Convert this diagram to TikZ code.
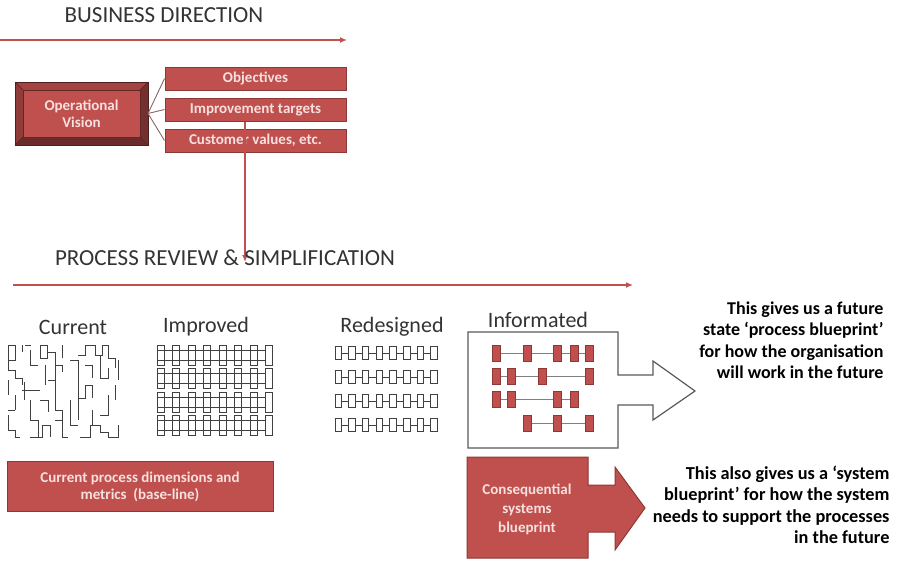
\documentclass[tikz,border=0pt]{standalone}
\usepackage{fontspec}
\setmainfont{Carlito}
\usetikzlibrary{arrows.meta}
\definecolor{brick}{HTML}{C0504D}
\definecolor{brickdark}{HTML}{8C3836}
\definecolor{pinktext}{HTML}{F6E1E0}
\definecolor{inkgray}{HTML}{333333}

\begin{document}
\begin{tikzpicture}[x=1pt,y=-1pt,
  redbox/.style={draw=brickdark,fill=brick,line width=1pt,text=pinktext,font=\fontsize{15}{17}\selectfont\bfseries,align=center,inner sep=0pt},
  head/.style={text=inkgray,font=\fontsize{23}{26}\selectfont},
  stage/.style={text=inkgray,font=\fontsize{22}{24}\selectfont},
  flow/.style={brick,line width=2pt,-{Latex[length=7pt,width=6pt]}},
  note/.style={align=right,anchor=east,font=\fontsize{18}{21.5}\selectfont\bfseries},
  sketch/.style={draw=black!75,line width=1.1pt},
  chip/.style={draw=brickdark,fill=brick,line width=.8pt}]
  \useasboundingbox (0,0) rectangle (903,563);

  % business direction
  \node[head] (bizhead) at (164,15) {BUSINESS DIRECTION};
  \coordinate (bizstart) at (0,40);
  \coordinate (bizend) at (347,40);
  \draw[flow] (bizstart) -- (bizend);

  % bevelled vision box
  \fill[brick!85!black] (15,82) -- (148,82) -- (140,90) -- (23,90) -- cycle;
  \fill[brick!75!black] (15,82) -- (23,90) -- (23,137) -- (15,145) -- cycle;
  \fill[brick!60!black] (148,82) -- (140,90) -- (140,137) -- (148,145) -- cycle;
  \fill[brick!55!black] (15,145) -- (23,137) -- (140,137) -- (148,145) -- cycle;
  \node[redbox,draw=brick!50!black,minimum width=117pt,minimum height=47pt] (opvision) at (81.5,113.5) {Operational\\Vision};
  \draw[brick!40!black,line width=.8pt] (15,82) rectangle (148,145);
  \draw[brick!40!black,line width=.5pt] (15,82) -- (23,90) (148,82) -- (140,90) (15,145) -- (23,137) (148,145) -- (140,137);
  \coordinate (visionout) at (148,113.5);

  \node[redbox,minimum width=181pt,minimum height=23pt] (objectives) at (255.5,78.5) {Objectives};
  \node[redbox,minimum width=181pt,minimum height=23pt] (improve) at (255.5,109.5) {Improvement targets};
  \node[redbox,minimum width=181pt,minimum height=23pt] (custvalues) at (255.5,140.5) {Customer values, etc.};
  \draw[brick!45!black!70,line width=.9pt] (visionout) -- (objectives.west);
  \draw[brick!45!black!70,line width=.9pt] (visionout) -- (improve.west);
  \draw[brick!45!black!70,line width=.9pt] (visionout) -- (custvalues.west);

  % drop into process review
  \coordinate (drop) at (245,262);
  \draw[flow] (improve.south -| drop) -- (drop);
  \node[head] (prochead) at (225,258) {PROCESS REVIEW \& SIMPLIFICATION};
  \coordinate (procstart) at (13,285);
  \coordinate (procend) at (633,285);
  \draw[flow] (procstart) -- (procend);

  % stages
  \node[stage] (current) at (73,327) {Current};
  \node[stage] (improved) at (206,327) {Improved};
  \node[stage] (redesigned) at (392,327) {Redesigned};
  \node[stage] (informated) at (538,320) {Informated};

  % current: tangled
  \draw[sketch,line width=1pt] (8,345) rectangle (15,360)
    (8,360) -- (8,370) -- (15,370) -- (15,378) -- (22,378) -- (22,385)
    (24,382) -- (24,400) (22,390) -- (40,390)
    (25,345) -- (31,345) (22,345) -- (22,352) (30,350) -- (30,365) -- (38,365)
    (40,345) rectangle (47,358) (47,352) -- (55,352) -- (55,365) -- (62,365) -- (62,372)
    (62,345) -- (62,358)
    (55,365) -- (55,380) -- (48,380)
    (78,355) -- (85,355) -- (85,345) -- (95,345) -- (95,355) -- (102,355) -- (102,345) -- (108,345) -- (108,358) -- (115,358) -- (115,368)
    (100,355) -- (100,378) -- (108,378) -- (108,368)
    (85,365) -- (92,365) -- (92,378)
    (70,360) -- (78,360) -- (78,420)
    (55,380) -- (55,410) -- (62,410) -- (62,420)
    (78,398) -- (85,398) -- (85,385) -- (92,385) -- (92,398)
    (8,380) -- (8,395) (15,395) -- (15,410)
    (8,410) -- (15,410) (8,415) -- (8,430) -- (15,430) -- (15,437) -- (20,437)
    (30,400) -- (30,420) -- (38,420) -- (38,437)
    (40,400) -- (48,400) -- (48,412)
    (30,437) -- (42,437) -- (42,425) -- (50,425) -- (50,437)
    (55,420) -- (62,420) -- (62,437) -- (68,437)
    (70,400) -- (70,425) -- (78,425)
    (92,410) -- (92,425) (108,395) -- (108,415) -- (100,415)
    (80,437) -- (90,437) -- (90,425) -- (100,425) -- (100,432) -- (108,432) -- (108,437) -- (118,437) -- (118,425)
    (118,360) -- (118,380) (115,385) -- (115,400) (45,365) -- (45,385);

  % improved: regular weave
  \foreach \r in {0,...,3} {
    \foreach \i in {0,...,7} {
      \draw[sketch,line width=.9pt] (157+15.5*\i,345+23.5*\r) rectangle ++(7,20);
    }
    \draw[sketch,line width=.9pt] (157,350+23.5*\r) -- (265,350+23.5*\r) (157,360+23.5*\r) -- (265,360+23.5*\r);
  }

  % redesigned: simple chains
  \foreach \r in {0,...,3} {
    \draw[sketch,line width=.9pt] (335,353+24*\r) -- (437,353+24*\r);
    \foreach \i in {0,...,7} {
      \draw[sketch,line width=.9pt,fill=white] (335+13.7*\i,346.5+24*\r) rectangle ++(6.5,13);
    }
  }

  % informated: blueprint with arrow
  \draw[draw=black!65,line width=1.2pt] (468,332) -- (618,332) -- (618,375) -- (653,375) -- (653,361) -- (695,391)
    -- (653,420) -- (653,405) -- (618,405) -- (618,448) -- (468,448) -- cycle;
  \foreach \y/\a/\b/\cols in {353/496/589/{496,527,557,574,589}, 376/496/589/{496,511,542,589},
      399/496/574/{496,511,557,574}, 423/527/589/{527,557,589}} {
    \draw[black!50,line width=.8pt] (\a,\y) -- (\b,\y);
    \foreach \x in \cols {
      \draw[chip] (\x-4,\y-8) rectangle ++(8,16);
    }
  }

  % bottom row
  \node[redbox,minimum width=266pt,minimum height=50pt] (baseline) at (140,486.5) {Current process dimensions and\\metrics~~(base-line)};
  \draw[brickdark,fill=brick,line width=1pt] (467,457) -- (588,457) -- (588,485) -- (615,485) -- (615,467) -- (645,508)
    -- (615,550) -- (615,532) -- (588,532) -- (588,558) -- (467,558) -- cycle;
  \node[text=pinktext,font=\fontsize{15}{19}\selectfont\bfseries,align=center] (conseq) at (527,509) {Consequential\\systems\\blueprint};

  % notes
  \node[note] (procnote) at (887,340) {This gives us a future\\state ‘process blueprint’\\for how the organisation\\will work in the future};
  \node[note,font=\fontsize{18.3}{21.5}\selectfont\bfseries] (sysnote) at (893,505) {This also gives us a ‘system\\blueprint’ for how the system\\needs to support the processes\\in the future};
\end{tikzpicture}
\end{document}
